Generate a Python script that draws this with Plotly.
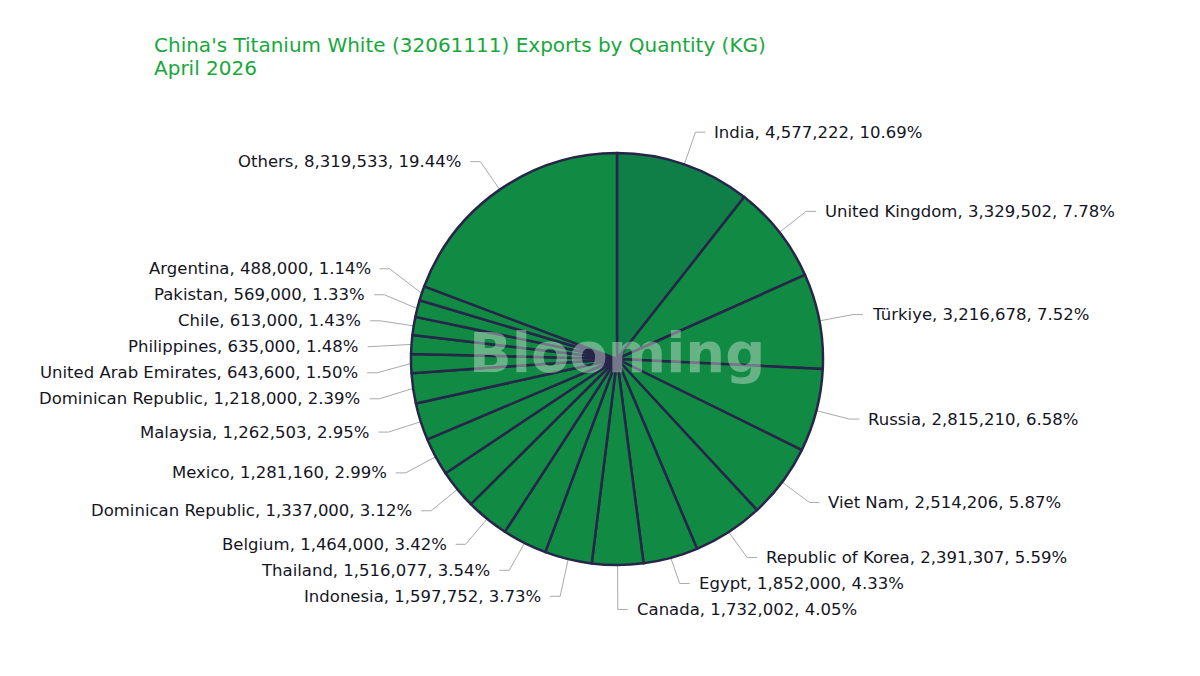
import math
import plotly.graph_objects as go

# ---------------- data ----------------
countries = ["India", "United Kingdom", "Türkiye", "Russia", "Viet Nam",
             "Republic of Korea", "Egypt", "Canada", "Indonesia", "Thailand",
             "Belgium", "Dominican Republic", "Mexico", "Malaysia",
             "Dominican Republic", "United Arab Emirates", "Philippines",
             "Chile", "Pakistan", "Argentina", "Others"]
quantities = [4577222, 3329502, 3216678, 2815210, 2514206,
              2391307, 1852000, 1732002, 1597752, 1516077,
              1464000, 1337000, 1281160, 1262503,
              1218000, 643600, 635000,
              613000, 569000, 488000, 8319533]
shares = [10.69, 7.78, 7.52, 6.58, 5.87,
          5.59, 4.33, 4.05, 3.73, 3.54,
          3.42, 3.12, 2.99, 2.95,
          2.39, 1.50, 1.48,
          1.43, 1.33, 1.14, 19.44]
title_lines = ["China's Titanium White (32061111) Exports by Quantity (KG)", "April 2026"]

# ---------------- layout geometry ----------------
W, H = 1200, 676
CX, CY, RAD = 617, 359, 206
RL = RAD + 34      # leader-line bend radius
L2 = 10            # horizontal leader length
GAP = 7            # gap leader -> text
LBL_H = 26         # min vertical spacing of labels

FONT = "DejaVu Sans"
GREEN = "#118a44"
GREEN_DARK = "#0f7f47"
EDGE = "#27264a"

keys = [f"{i}:{c}" for i, c in enumerate(countries)]
texts = [f"{c}, {q:,}, {s:.2f}%" for c, q, s in zip(countries, quantities, shares)]
colors = [GREEN_DARK] + [GREEN] * (len(countries) - 1)

fig = go.Figure()
# slice sizes follow the printed shares
fig.add_trace(go.Pie(
    labels=keys, values=shares, sort=False, direction="clockwise", rotation=0,
    marker=dict(colors=colors, line=dict(color=EDGE, width=2.5)),
    textinfo="none", hovertext=texts, hoverinfo="text", showlegend=False,
    domain=dict(x=[(CX - RAD) / W, (CX + RAD) / W], y=[1 - (CY + RAD) / H, 1 - (CY - RAD) / H]),
))

# ---------------- label placement (computed from the values) ----------------
total = float(sum(shares))
items = []
cum = 0.0
for i, v in enumerate(shares):
    ang = (cum + v / 2.0) / total * 2 * math.pi
    cum += v
    s, c = math.sin(ang), math.cos(ang)
    items.append(dict(i=i, side=1 if s >= 0 else -1,
                      ex=CX + RAD * s, ey=CY - RAD * c,
                      bx=CX + RL * s, by=CY - RL * c))


def resolve(side_items):
    side_items = sorted(side_items, key=lambda d: d["by"])
    clusters = []
    for it in side_items:
        clusters.append([it["by"], 1, [it]])
        while len(clusters) > 1:
            a, b = clusters[-2], clusters[-1]
            ca, cb = a[0] / a[1], b[0] / b[1]
            a_bot = ca + (a[1] - 1) / 2 * LBL_H
            b_top = cb - (b[1] - 1) / 2 * LBL_H
            if b_top - a_bot < LBL_H:
                clusters[-2] = [a[0] + b[0], a[1] + b[1], a[2] + b[2]]
                clusters.pop()
            else:
                break
    for ssum, n, lst in clusters:
        center = ssum / n
        for k, it in enumerate(lst):
            it["ly"] = center + (k - (n - 1) / 2) * LBL_H


resolve([d for d in items if d["side"] > 0])
resolve([d for d in items if d["side"] < 0])

lx, ly = [], []
for d in items:
    x3 = d["bx"] + d["side"] * L2
    lx += [d["ex"], d["bx"], x3, None]
    ly += [d["ey"], d["ly"], d["ly"], None]
    fig.add_annotation(x=x3 + d["side"] * GAP, y=d["ly"], xref="x", yref="y",
                       text=texts[d["i"]], showarrow=False,
                       xanchor="left" if d["side"] > 0 else "right", yanchor="middle",
                       font=dict(family=FONT, size=16.5, color="#15151f"))

fig.add_trace(go.Scatter(x=lx, y=ly, mode="lines", line=dict(color="#a9a9a9", width=1),
                         hoverinfo="skip", showlegend=False))

# watermark
fig.add_annotation(x=CX, y=CY - 7, xref="x", yref="y", text="<b>Blooming</b>", showarrow=False,
                   xanchor="center", yanchor="middle",
                   font=dict(family=FONT, size=56, color="rgba(235,240,235,0.40)"))

# title
for k, t in enumerate(title_lines):
    fig.add_annotation(x=152, y=45 + 23 * k, xref="x", yref="y", text=t, showarrow=False,
                       xanchor="left", yanchor="middle",
                       font=dict(family=FONT, size=20, color="#17a83c"))

fig.update_layout(
    width=W, height=H, margin=dict(l=0, r=0, t=0, b=0),
    paper_bgcolor="white", plot_bgcolor="rgba(0,0,0,0)",
    xaxis=dict(range=[0, W], visible=False, fixedrange=True),
    yaxis=dict(range=[H, 0], visible=False, fixedrange=True),
)

fig.write_html("out.html")
